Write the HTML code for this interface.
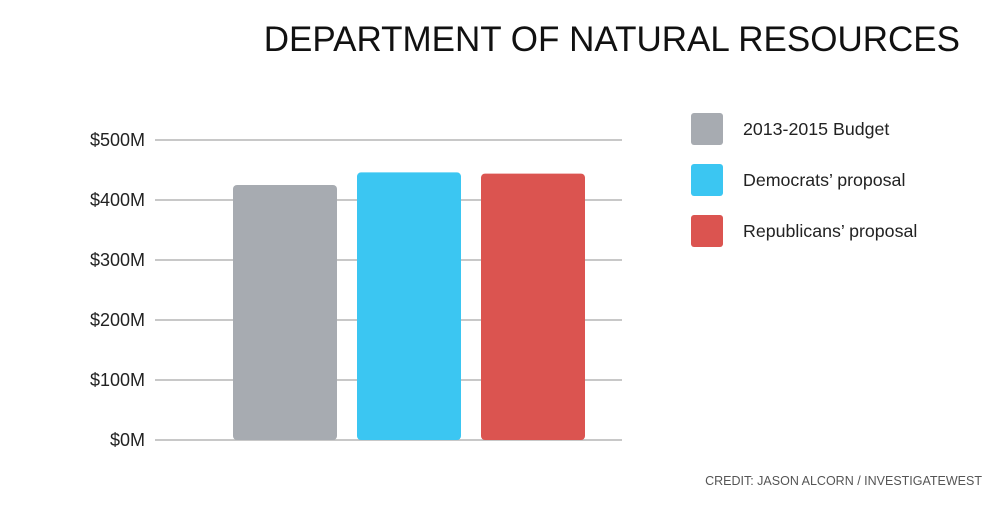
<!DOCTYPE html>
<html><head><meta charset="utf-8"><style>
body{margin:0;background:#fff;}
svg text{font-family:"Liberation Sans",sans-serif;}
</style></head><body>
<svg id="c" width="1000" height="500">
<text x="960" y="51" text-anchor="end" font-size="35" fill="#111">DEPARTMENT OF NATURAL RESOURCES</text>
<text x="982" y="485" text-anchor="end" font-size="12.5" fill="#555">CREDIT: JASON ALCORN / INVESTIGATEWEST</text>
<g id="grid"></g><g id="bars"></g><g id="legend"></g>
</svg>
<script>
const categories=["2013-2015 Budget","Democrats’ proposal","Republicans’ proposal"];
const values=[425,446,444];
const colors=["#a7abb1","#3bc6f2","#db5450"];
const ticks=[0,100,200,300,400,500];
const tickLabels=["$0M","$100M","$200M","$300M","$400M","$500M"];
const ns="http://www.w3.org/2000/svg";
const y=v=>440-v*0.6;
const x=i=>233+i*124;
function mk(t,a,p){const e=document.createElementNS(ns,t);for(const k in a)e.setAttribute(k,a[k]);p.appendChild(e);return e;}
const g=document.getElementById('grid');
ticks.forEach((t,i)=>{
 const l=mk('line',{x1:155,x2:622,y1:y(t),y2:y(t),stroke:'#b5b5b5','stroke-width':1.5},g);
 
 
 const tx=mk('text',{x:145,y:y(t)+6,'text-anchor':'end','font-size':18,fill:'#222'},g);
 tx.textContent=tickLabels[i];
 
 
});
const b=document.getElementById('bars');
values.forEach((v,i)=>{
 const r=mk('rect',{x:x(i),y:y(v),width:104,height:440-y(v),rx:4,fill:colors[i]},b);
 
 
});
const lg=document.getElementById('legend');
categories.forEach((c,i)=>{
 const r=mk('rect',{x:691,y:113+i*51,width:32,height:32,rx:3,fill:colors[i]},lg);
 
 
 const t=mk('text',{x:743,y:135+i*51,'font-size':17.8,fill:'#222'},lg);
 t.textContent=c;
 
 
});
</script>
</body></html>
